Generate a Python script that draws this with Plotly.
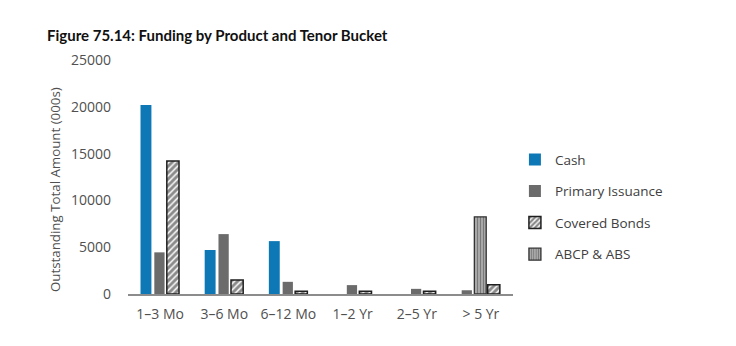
import plotly.graph_objects as go

# Outstanding amounts (000s) per tenor bucket
tenors = ["1–3 Mo", "3–6 Mo", "6–12 Mo", "1–2 Yr", "2–5 Yr", "> 5 Yr"]
cash = [20200, 4700, 5650, 0, 0, 0]
primary_issuance = [4450, 6400, 1300, 950, 550, 400]
covered_bonds = [14200, 1500, 300, 300, 300, 1000]
abcp_abs = [0, 0, 0, 0, 0, 8250]

y_ticks = [0, 5000, 10000, 15000, 20000, 25000]

# Bars that exist in a bucket are packed into three right-aligned slots,
# in this series order.
series = [
    ("Cash", cash),
    ("Primary Issuance", primary_issuance),
    ("ABCP & ABS", abcp_abs),
    ("Covered Bonds", covered_bonds),
]
N_SLOTS = 3
SLOT_BASE = -0.22
SLOT_PITCH = 0.21

styles = {
    "Cash": dict(width=0.17, rank=1,
                 marker=dict(color="#0E78B6", line=dict(width=0))),
    "Primary Issuance": dict(width=0.16, rank=2,
                             marker=dict(color="#6B6B6B", line=dict(width=0))),
    "Covered Bonds": dict(width=0.19, rank=3,
                          marker=dict(color="white",
                                      line=dict(color="#1E1E1E", width=1.5),
                                      pattern=dict(shape="/", fgcolor="#1E1E1E",
                                                   bgcolor="#F4F4F4", size=4.5,
                                                   solidity=0.62))),
    "ABCP & ABS": dict(width=0.185, rank=4,
                       marker=dict(color="#BDBDBD",
                                   line=dict(color="#333333", width=1.3),
                                   pattern=dict(shape="|", fgcolor="#333333",
                                                bgcolor="#BEBEBE", size=3,
                                                solidity=0.55))),
}

# slot index of each series within each bucket
slot_of = {name: [None] * len(tenors) for name, _ in series}
for i in range(len(tenors)):
    present = [name for name, vals in series if vals[i] > 0]
    first = N_SLOTS - len(present)
    for j, name in enumerate(present):
        slot_of[name][i] = first + j

fig = go.Figure()
for name, vals in series:
    st = styles[name]
    w = st["width"]
    ys, offs = [], []
    for i, v in enumerate(vals):
        s = slot_of[name][i]
        if s is None:
            ys.append(None)
            offs.append(0)
        else:
            ys.append(v)
            offs.append(SLOT_BASE + s * SLOT_PITCH - w / 2)
    fig.add_trace(go.Bar(
        name=name, x=tenors, y=ys, offset=offs, width=w,
        marker=st["marker"], legendrank=st["rank"], legendgroup=name,
        hoverinfo="x+y+name",
    ))

tick_font = dict(family="Open Sans", size=14, color="#505050")

fig.update_layout(
    width=736, height=346,
    margin=dict(l=128, r=223, t=60, b=52),
    paper_bgcolor="white", plot_bgcolor="white",
    barmode="overlay",
    showlegend=True,
    title=dict(
        text="<b>Figure 75.14: Funding by Product and Tenor Bucket</b>",
        font=dict(family="Lato", size=15, color="#111111"),
        x=47 / 736, xanchor="left", xref="container",
        y=1 - 36 / 346, yanchor="middle", yref="container",
    ),
    legend=dict(
        x=1.005, xanchor="left", y=0.64, yanchor="top",
        font=dict(family="Open Sans", size=13.5, color="#404040"),
        tracegroupgap=11, bgcolor="rgba(0,0,0,0)",
    ),
    xaxis=dict(
        type="category", range=[-0.5, 5.5],
        showline=True, linecolor="#8C8C8C", linewidth=1.5,
        ticks="", showgrid=False, zeroline=False,
        tickfont=tick_font, ticklabelstandoff=6,
    ),
    yaxis=dict(
        range=[0, 25000], tickvals=y_ticks,
        ticktext=[str(v) for v in y_ticks],
        showline=False, showgrid=False, zeroline=False, ticks="",
        tickfont=tick_font, ticklabelstandoff=16,
    ),
    annotations=[dict(
        text="Outstanding Total Amount (000s)",
        textangle=-90, showarrow=False,
        xref="paper", yref="paper",
        x=(55 - 128) / 385, y=(294 - 190) / 234,
        xanchor="center", yanchor="middle",
        font=dict(family="Open Sans", size=13.3, color="#505050"),
    )],
)

fig.write_html("out.html")
